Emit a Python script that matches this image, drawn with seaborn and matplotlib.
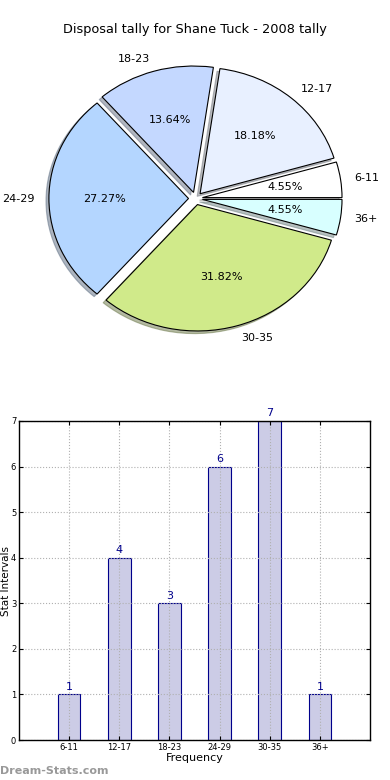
import matplotlib
matplotlib.use("Agg")
import matplotlib.pyplot as plt
import seaborn as sns
import pandas as pd

categories = ["6-11", "12-17", "18-23", "24-29", "30-35", "36+"]
counts = [1, 4, 3, 6, 7, 1]
pie_colors = ["#ffffff", "#e8f0ff", "#c4d8ff", "#b4d6ff", "#d0ea8a", "#d8ffff"]
title = "Disposal tally for Shane Tuck - 2008 tally"
y_ticks = [0, 1, 2, 3, 4, 5, 6, 7]

sns.set_style("white")
plt.rcParams['font.family'] = ['DejaVu Sans']
plt.rcParams['text.color'] = 'black'
plt.rcParams['axes.labelcolor'] = 'black'
plt.rcParams['xtick.color'] = 'black'
plt.rcParams['ytick.color'] = 'black'

fig = plt.figure(figsize=(3.9, 7.8), dpi=100)
W, H = 390, 780

# Pie axes (elliptical, as in the reference)
cx, cy = 195.5, 198.5
sx, sy = 139.6, 126.4
lim = 1.3
axp = fig.add_axes([(cx - lim * sx) / W, (H - cy - lim * sy) / H,
                    2 * lim * sx / W, 2 * lim * sy / H])
wedges, texts, autotexts = axp.pie(
    counts, labels=categories, colors=pie_colors, explode=[0.05] * len(counts),
    autopct="%.2f%%", shadow=dict(ox=-0.015, oy=-0.015, shade=0.5), startangle=0,
    counterclock=True, wedgeprops=dict(edgecolor="black", linewidth=0.8),
    textprops=dict(fontsize=8, color="black"), radius=1.0)
axp.set_xlim(-lim, lim)
axp.set_ylim(-lim, lim)
axp.set_aspect("auto")
axp.axis("off")
fig.text(195 / W, 1 - 30 / H, title, ha="center", va="center", fontsize=9.3)

# Bar axes
l, r, t, b = 19, 370, 421, 740
axb = fig.add_axes([l / W, (H - b) / H, (r - l) / W, (b - t) / H])
df = pd.DataFrame({"cat": categories, "count": counts})
sns.barplot(data=df, x="cat", y="count", ax=axb, color="#ccccE6", width=0.45,
            edgecolor="#00008b", linewidth=0.8, saturation=1)
for i, v in enumerate(counts):
    axb.text(i, v + 0.06, str(v), ha="center", va="bottom", color="#00008b", fontsize=8)
axb.set_xlim(-1, 6)
axb.set_ylim(0, 7)
axb.set_yticks(y_ticks)
axb.tick_params(axis="both", labelsize=6, direction="in", length=3, top=True, right=True,
                bottom=True, left=True, pad=2)
axb.grid(True, linestyle=":", color="#b0b0b0", linewidth=0.8)
axb.set_axisbelow(False)
for s in axb.spines.values():
    s.set_color("black")
    s.set_linewidth(1)
    s.set_zorder(5)
axb.set_xlabel("Frequency", fontsize=8, labelpad=1)
axb.set_ylabel("Stat Intervals", fontsize=7.5)
axb.yaxis.set_label_coords((11 - l) / (r - l), 0.5)

fig.text(0 / W, 1 - 771 / H, "Dream-Stats.com", ha="left", va="center", fontsize=8,
         color="#999999", fontweight="bold")

fig.savefig("out.png", dpi=100)
